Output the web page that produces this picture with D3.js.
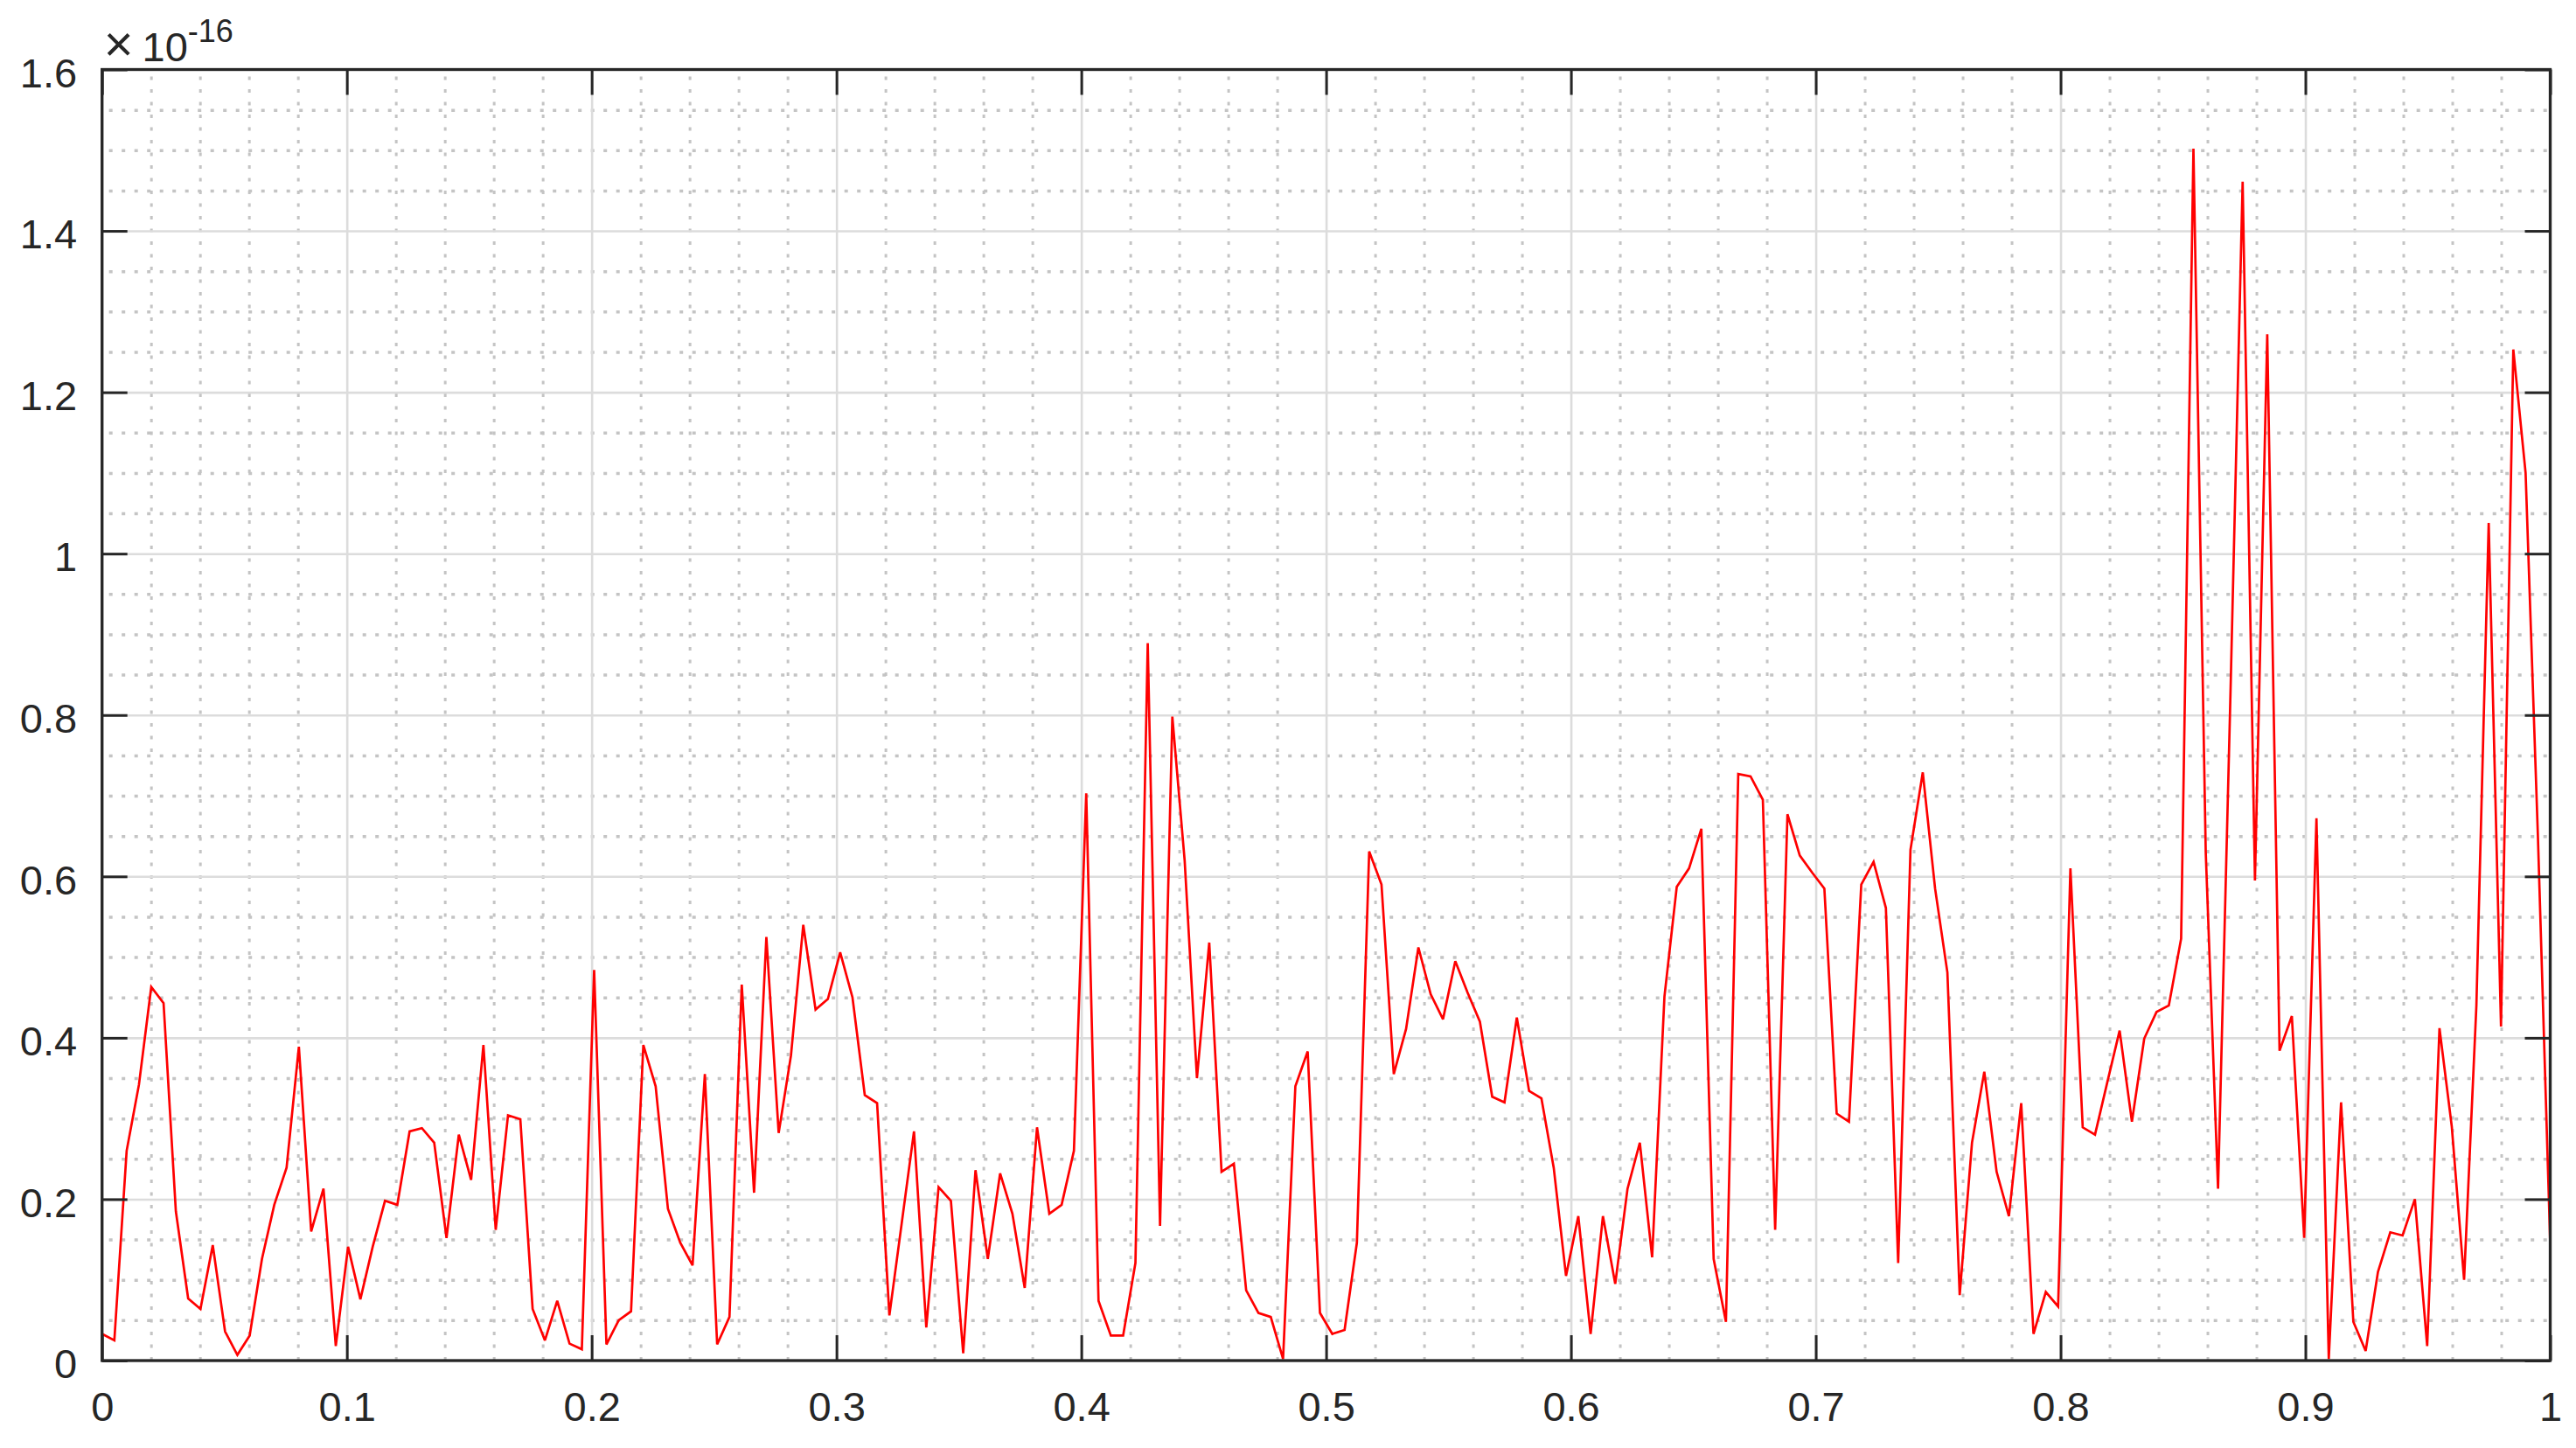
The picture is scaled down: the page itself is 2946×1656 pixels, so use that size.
<html>
<head>
<title>error plot</title>
<style>
  body { margin: 0; background: #fff; }
  svg { display: block; font-family: "Liberation Sans", Arial, sans-serif; }
  .tick text { fill: #262626; }
</style>
</head>
<body>
<svg></svg>
<script src="https://d3js.org/d3.v7.min.js"></script>
<script>
const width = 2946;
const height = 1656;
const margin = {top: 79.5, right: 29.5, bottom: 100, left: 116.7};

// y values in units of 1e-16, sampled at 200 equally spaced x in [0, 1]
const yValues = [
  0.033, 0.025, 0.26, 0.342, 0.463, 0.443, 0.185, 0.077, 0.064, 0.143,
  0.036, 0.007, 0.031, 0.126, 0.193, 0.239, 0.389, 0.16, 0.213, 0.018,
  0.141, 0.076, 0.141, 0.198, 0.193, 0.284, 0.288, 0.27, 0.152, 0.28,
  0.224, 0.391, 0.162, 0.304, 0.299, 0.064, 0.025, 0.074, 0.021, 0.014,
  0.484, 0.02, 0.05, 0.061, 0.391, 0.34, 0.188, 0.146, 0.118, 0.355,
  0.02, 0.054, 0.466, 0.208, 0.525, 0.282, 0.378, 0.54, 0.435, 0.448,
  0.506, 0.45, 0.329, 0.319, 0.056, 0.17, 0.284, 0.041, 0.215, 0.198,
  0.009, 0.236, 0.126, 0.232, 0.182, 0.09, 0.289, 0.182, 0.193, 0.26,
  0.703, 0.074, 0.031, 0.031, 0.121, 0.889, 0.167, 0.798, 0.62, 0.35,
  0.518, 0.234, 0.244, 0.087, 0.059, 0.054, 0.002, 0.34, 0.383, 0.059,
  0.033, 0.038, 0.146, 0.631, 0.59, 0.355, 0.411, 0.512, 0.454, 0.423,
  0.495, 0.456, 0.42, 0.327, 0.32, 0.425, 0.334, 0.325, 0.239, 0.105,
  0.179, 0.033, 0.179, 0.095, 0.213, 0.27, 0.128, 0.451, 0.587, 0.61,
  0.659, 0.126, 0.048, 0.727, 0.724, 0.695, 0.162, 0.677, 0.626, 0.605,
  0.585, 0.306, 0.296, 0.59, 0.618, 0.561, 0.121, 0.633, 0.729, 0.585,
  0.481, 0.081, 0.27, 0.358, 0.234, 0.179, 0.319, 0.033, 0.085, 0.067,
  0.61, 0.289, 0.28, 0.345, 0.409, 0.296, 0.399, 0.432, 0.44, 0.523,
  1.502, 0.63, 0.213, 0.82, 1.461, 0.595, 1.272, 0.384, 0.427, 0.152,
  0.672, 0.002, 0.32, 0.048, 0.012, 0.11, 0.159, 0.155, 0.2, 0.018,
  0.412, 0.29, 0.1, 0.44, 1.038, 0.414, 1.253, 1.1, 0.65, 0.145
];

const xTicks = [0, 0.1, 0.2, 0.3, 0.4, 0.5, 0.6, 0.7, 0.8, 0.9, 1];
const xTickLabels = ["0", "0.1", "0.2", "0.3", "0.4", "0.5", "0.6", "0.7", "0.8", "0.9", "1"];
const yTicks = [0, 0.2, 0.4, 0.6, 0.8, 1, 1.2, 1.4, 1.6];
const yTickLabels = ["0", "0.2", "0.4", "0.6", "0.8", "1", "1.2", "1.4", "1.6"];
const yExponent = "-16";

const n = yValues.length;
const data = yValues.map((v, i) => ({x: i / (n - 1), y: v}));

// minor grid: every 0.02 in x, every 0.05 in y
const xMinor = d3.range(0, 51).map(i => i / 50).filter((d, i) => i % 5 !== 0);
const yMinor = d3.range(0, 33).map(i => i / 20).filter((d, i) => i % 4 !== 0);

const w = width - margin.left - margin.right;
const h = height - margin.top - margin.bottom;

const svg = d3.select("svg")
    .attr("width", width)
    .attr("height", height);

const x = d3.scaleLinear().domain([0, 1]).range([0, w]);
const y = d3.scaleLinear().domain([0, 1.6]).range([h, 0]);

const g = svg.append("g")
    .attr("transform", `translate(${margin.left},${margin.top})`);

// minor grid (dotted)
g.append("g")
    .attr("transform", `translate(0,${h})`)
    .call(d3.axisBottom(x).tickValues(xMinor).tickSize(-h).tickFormat(""))
    .call(s => s.select(".domain").remove())
    .call(s => s.selectAll("line").attr("stroke", "#c4c4c4").attr("stroke-width", 3).attr("stroke-dasharray", "4 10.5"));
g.append("g")
    .call(d3.axisLeft(y).tickValues(yMinor).tickSize(-w).tickFormat(""))
    .call(s => s.select(".domain").remove())
    .call(s => s.selectAll("line").attr("stroke", "#c4c4c4").attr("stroke-width", 3.5).attr("stroke-dasharray", "4 10.5").attr("stroke-dashoffset", -8));

// major grid
g.append("g")
    .attr("transform", `translate(0,${h})`)
    .call(d3.axisBottom(x).tickValues(xTicks).tickSize(-h).tickFormat(""))
    .call(s => s.select(".domain").remove())
    .call(s => s.selectAll("line").attr("stroke", "#dcdcdc").attr("stroke-width", 2.6));
g.append("g")
    .call(d3.axisLeft(y).tickValues(yTicks).tickSize(-w).tickFormat(""))
    .call(s => s.select(".domain").remove())
    .call(s => s.selectAll("line").attr("stroke", "#dcdcdc").attr("stroke-width", 2.6));

// data line
const line = d3.line()
    .x(d => x(d.x))
    .y(d => y(d.y));

g.append("path")
    .datum(data)
    .attr("fill", "none")
    .attr("stroke", "#ff0000")
    .attr("stroke-width", 2.7)
    .attr("stroke-linejoin", "miter")
    .attr("stroke-miterlimit", 3)
    .attr("d", line);

// axes with inward ticks on all four sides
const tickLen = 29;
const fontSize = 47;

const axisStyle = s => {
    s.select(".domain").remove();
    s.selectAll("line").attr("stroke", "#262626").attr("stroke-width", 3);
    s.selectAll("text").attr("font-size", fontSize).attr("fill", "#262626");
};

g.append("g")
    .attr("transform", `translate(0,${h})`)
    .call(d3.axisBottom(x).tickValues(xTicks).tickSizeInner(-tickLen).tickSizeOuter(0)
        .tickPadding(36).tickFormat((d, i) => xTickLabels[i]))
    .call(axisStyle);

g.append("g")
    .call(d3.axisTop(x).tickValues(xTicks).tickSizeInner(-tickLen).tickSizeOuter(0).tickFormat(""))
    .call(axisStyle);

g.append("g")
    .call(d3.axisLeft(y).tickValues(yTicks).tickSizeInner(-tickLen).tickSizeOuter(0)
        .tickPadding(28.5).tickFormat((d, i) => yTickLabels[i]))
    .call(axisStyle)
    .call(s => s.selectAll("text").attr("dy", "0.42em"));

g.append("g")
    .attr("transform", `translate(${w},0)`)
    .call(d3.axisRight(y).tickValues(yTicks).tickSizeInner(-tickLen).tickSizeOuter(0).tickFormat(""))
    .call(axisStyle);

// box
g.append("rect")
    .attr("x", 0)
    .attr("y", 0)
    .attr("width", w)
    .attr("height", h)
    .attr("fill", "none")
    .attr("stroke", "#262626")
    .attr("stroke-width", 3.3);

// exponent label
const expo = svg.append("text")
    .attr("x", margin.left + 2)
    .attr("y", 70)
    .attr("font-size", fontSize)
    .attr("fill", "#262626");
expo.append("tspan").attr("font-size", 58).text("\u00d7");
expo.append("tspan").attr("dx", 10).text("10");
expo.append("tspan").attr("font-size", 36).attr("dy", -22).text(yExponent);
</script>
</body>
</html>
